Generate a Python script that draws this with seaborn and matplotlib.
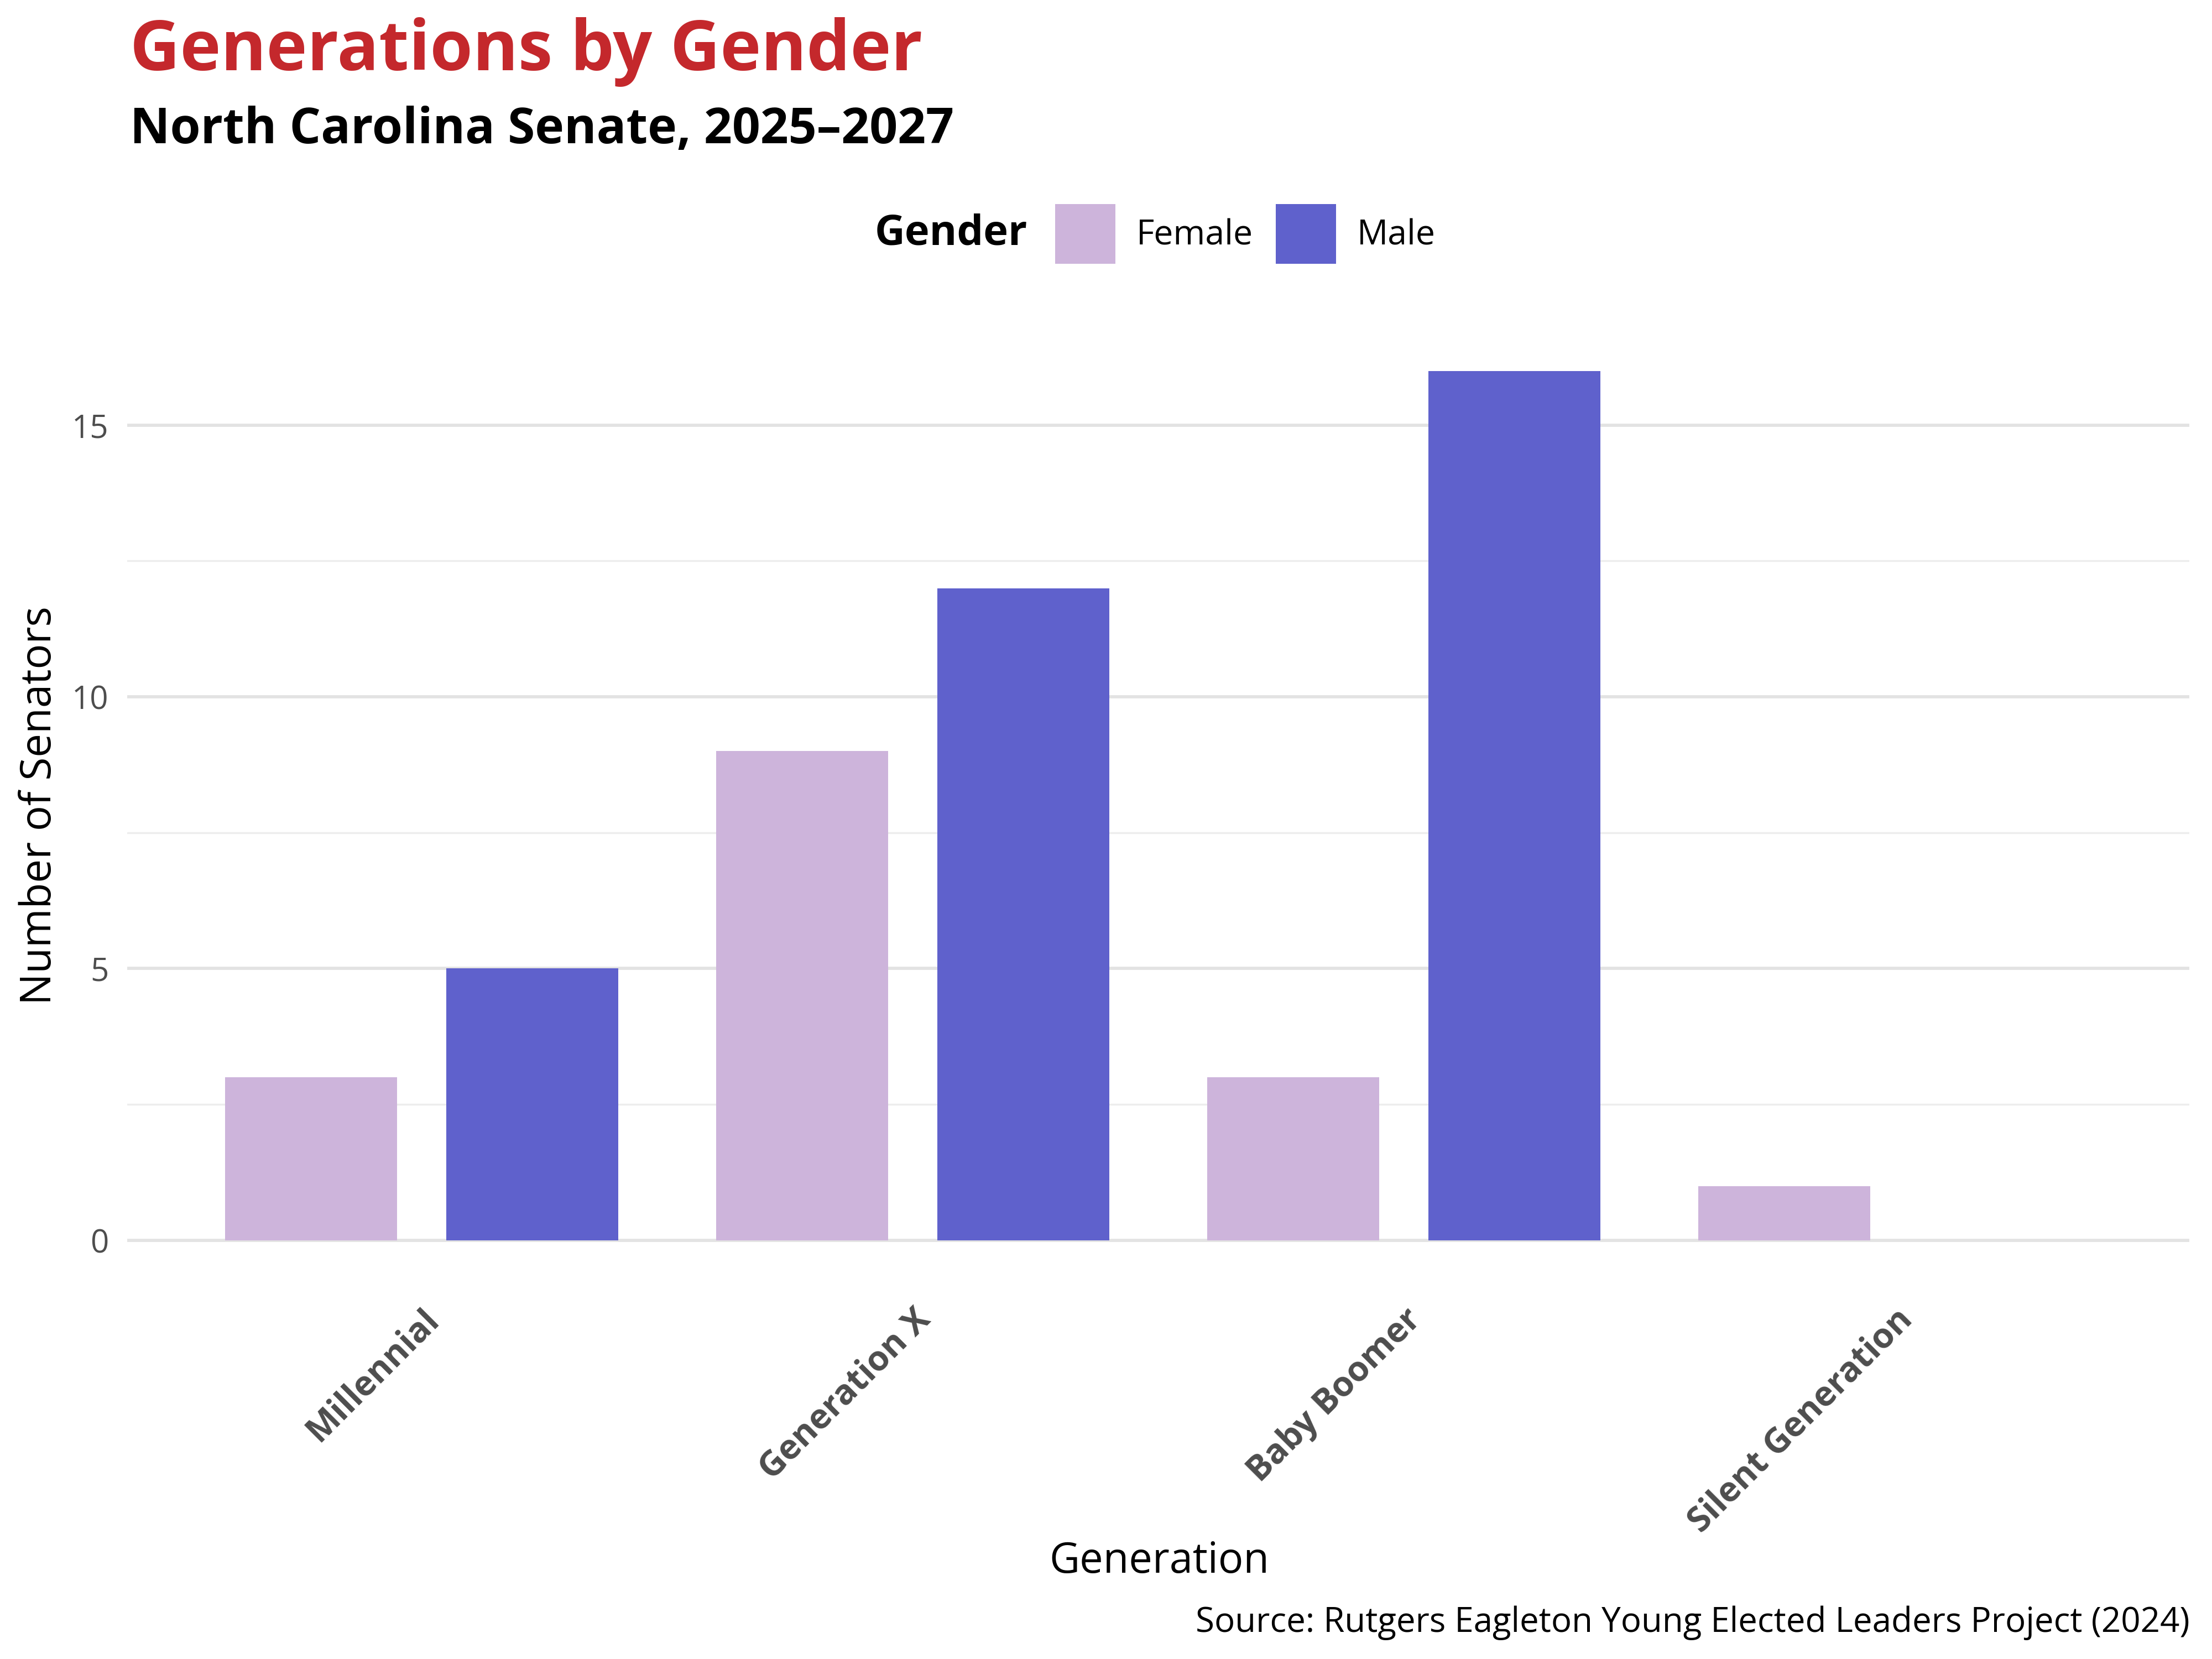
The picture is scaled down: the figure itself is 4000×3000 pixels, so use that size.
import matplotlib
matplotlib.use("Agg")
import matplotlib.pyplot as plt
import seaborn as sns
import pandas as pd

generations = ["Millennial", "Generation X", "Baby Boomer", "Silent Generation"]
female = [3, 9, 3, 1]
male = [5, 12, 16, 0]
genders = ["Female", "Male"]
colors = {"Female": "#CDB4DB", "Male": "#5F61CC"}

df = pd.DataFrame({
    "Generation": generations * 2,
    "Gender": ["Female"] * len(generations) + ["Male"] * len(generations),
    "Senators": female + male,
})

sns.set_style("white")
plt.rcParams["font.family"] = ["Open Sans", "DejaVu Sans"]
plt.rcParams["text.color"] = "black"

fig = plt.figure(figsize=(4000 / 300, 3000 / 300), dpi=300)
ax = fig.add_axes([0.0574, 0.2262, 0.9324, 0.5765])

sns.barplot(
    data=df, x="Generation", y="Senators", hue="Gender",
    order=generations, hue_order=genders, palette=colors,
    width=0.9, gap=0.222, saturation=1, errorbar=None, linewidth=0, ax=ax,
)

ax.set_ylim(-0.8, 16.8)
ax.set_xlim(-0.6, 3.6)
ax.set_yticks([0, 5, 10, 15])
ax.set_yticks([2.5, 7.5, 12.5], minor=True)
ax.grid(which="major", axis="y", color="#E3E3E3", lw=1.4)
ax.grid(which="minor", axis="y", color="#EDEDED", lw=0.8)
ax.grid(which="both", axis="x", visible=False)
ax.set_axisbelow(True)
for s in ax.spines.values():
    s.set_visible(False)
ax.tick_params(which="both", length=0)
ax.tick_params(axis="y", labelsize=14, labelcolor="#4D4D4D", pad=8)
plt.setp(ax.get_xticklabels(), rotation=45, ha="right", va="top",
         rotation_mode="anchor", fontsize=15, fontweight="bold", color="#4D4D4D")
ax.tick_params(axis="x", pad=8)

ax.set_xlabel("")
ax.set_ylabel("")
fig.text(0.018, 0.5145, "Number of Senators", rotation=90, ha="center", va="center", fontsize=18.3)
fig.text(0.524, 0.052, "Generation", ha="center", va="baseline", fontsize=18.2)
fig.text(0.99, 0.0163, "Source: Rutgers Eagleton Young Elected Leaders Project (2024)",
         ha="right", va="baseline", fontsize=14.85)

fig.text(0.0587, 0.9577, "Generations by Gender", color="#C4282C",
         fontsize=30, fontweight="bold", ha="left", va="baseline")
fig.text(0.0587, 0.9137, "North Carolina Senate, 2025\u20132027",
         fontsize=21.4, fontweight="bold", ha="left", va="baseline")

# legend: title to the left of the entries
fig.text(0.4645, 0.859, "Gender", fontsize=18.2, fontweight="bold", ha="right", va="center")
sns.move_legend(
    ax, "center left", bbox_to_anchor=(0.477, 0.859), bbox_transform=fig.transFigure,
    ncol=2, title=None, frameon=False, fontsize=15, borderpad=0, borderaxespad=0,
    handlelength=1.75, handleheight=2.3, handletextpad=0.6, columnspacing=0.65,
)

fig.savefig("out.png", dpi=300)
